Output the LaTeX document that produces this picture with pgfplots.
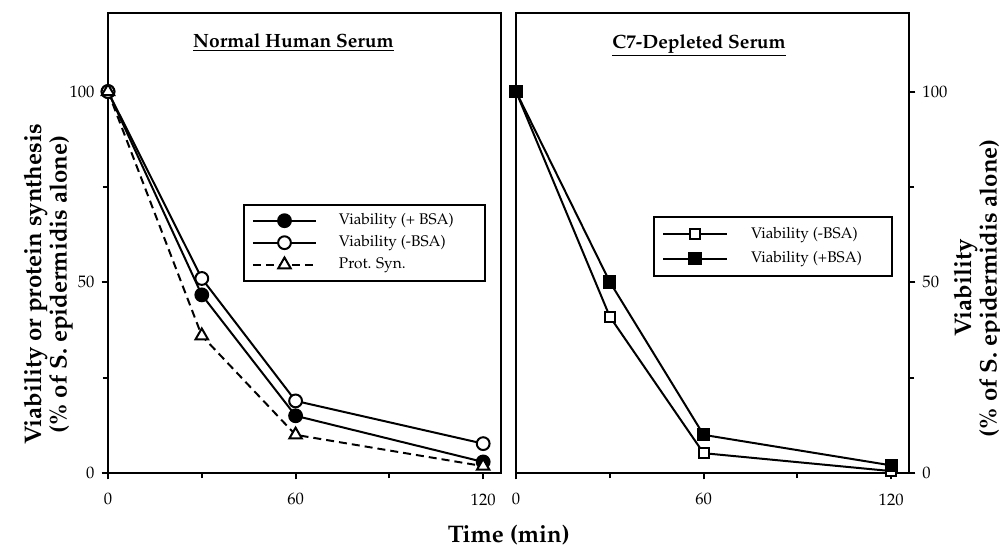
\documentclass[border=0pt]{standalone}
\usepackage[T1]{fontenc}
\usepackage{mathpazo}
\usepackage{pgfplots}
\pgfplotsset{compat=1.18}

% data (time in min, % of S. epidermidis alone)
\pgfplotstableread{
t   plus  minus  prot
0   100   100    100
30  46.7  51.0   36.0
60  15.0  18.9   10.0
120 2.9   7.7    1.8
}\normaldata
\pgfplotstableread{
t   minus plus
0   100   100
30  41.0  50.1
60  5.2   10.0
120 0.5   2.0
}\cseven

\tikzset{ptitle/.style={font=\fontsize{9.6}{11}\selectfont\bfseries, anchor=center, inner sep=0pt}}

\begin{document}
\begin{tikzpicture}
\pgfplotsset{
  panel/.style={
    scale only axis, width=196.5pt, height=230pt,
    xmin=0, xmax=125.7, ymin=0, ymax=120.6,
    axis line style={line width=1.3pt},
    xtick={0,60,120}, minor xtick={30,90},
    ytick={0,50,100}, minor ytick={25,75},
    tick align=outside, major tick length=3.2pt, minor tick length=2.5pt,
    tick style={line width=1pt, black},
    xtick pos=left,
    tick label style={font=\fontsize{8.3}{9}\selectfont},
    xticklabel style={yshift=-3.5pt},
    label style={font=\fontsize{12}{10}\selectfont\bfseries, align=center},
    legend cell align=left,
    legend style={draw=black, line width=1pt, anchor=north west,
      inner xsep=0pt, inner ysep=2.5pt, row sep=0pt, column sep=11pt,
      nodes={inner sep=0pt}, font=\fontsize{7.7}{9}\selectfont},
    legend image code/.code={
      \path[draw=none, fill=none] (-4.5pt,-5.5pt) rectangle (31.5pt,5.5pt);
      \draw[mark repeat=2,mark phase=2,##1] plot coordinates {(0pt,0pt) (15.75pt,0pt) (31.5pt,0pt)};
    },
  },
  dat/.style={black, line width=1pt},
}

\begin{axis}[panel,
  ytick pos=left,
  ylabel={Viability or protein synthesis\\(\% of S. epidermidis alone)},
  ylabel style={at={(axis description cs:-0.152,0.41)}, anchor=center},
  xlabel={Time (min)},
  xlabel style={at={(axis description cs:1.02,-0.135)}, anchor=center},
  legend style={at={(axis description cs:0.3435,0.5854)}},
]
\addplot[dat, mark=*, mark size=3.2pt, mark options={solid, line width=1pt, fill=black}] table[x=t, y=plus] {\normaldata};
\addlegendentry{\makebox[73pt][l]{Viability (+ BSA)}}
\addplot[dat, mark=*, mark size=3.2pt, mark options={solid, line width=1pt, fill=white}] table[x=t, y=minus] {\normaldata};
\addlegendentry{\makebox[73pt][l]{Viability (-BSA)}}
\addplot[dat, dash pattern=on 4pt off 2.5pt, mark=triangle*, mark size=3.6pt, mark options={solid, line width=1pt, fill=white}] table[x=t, y=prot] {\normaldata};
\addlegendentry{\makebox[73pt][l]{Prot. Syn.}}
\node[ptitle] at (rel axis cs:0.472,0.935) {\underline{Normal Human Serum}};
\end{axis}

\begin{axis}[panel, at={(204pt,0pt)},
  ytick pos=right, yticklabel pos=right,
  ylabel={Viability\\(\% of S. epidermidis alone)},
  ylabel style={at={(axis description cs:1.176,0.402)}, anchor=center, rotate=0},
  legend style={at={(axis description cs:0.3486,0.5587)}, column sep=11.5pt},
  legend image code/.code={
    \path[draw=none, fill=none] (-4.5pt,-6.1pt) rectangle (32pt,6.1pt);
    \draw[mark repeat=2,mark phase=2,#1] plot coordinates {(0pt,0pt) (16pt,0pt) (32pt,0pt)};
  },
]
\addplot[dat, mark=square*, mark size=2.5pt, mark options={solid, line width=1pt, fill=white}] table[x=t, y=minus] {\cseven};
\addlegendentry{\makebox[70.5pt][l]{Viability (-BSA)}}
\addplot[dat, mark=square*, mark size=2.8pt, mark options={solid, line width=1pt, fill=black}] table[x=t, y=plus] {\cseven};
\addlegendentry{\makebox[70.5pt][l]{Viability (+BSA)}}
\node[ptitle] at (rel axis cs:0.466,0.929) {\underline{C7-Depleted Serum}};
\end{axis}

\pgfresetboundingbox
\useasboundingbox (-54pt,-36.5pt) rectangle (446pt,236.5pt);
\end{tikzpicture}
\end{document}
